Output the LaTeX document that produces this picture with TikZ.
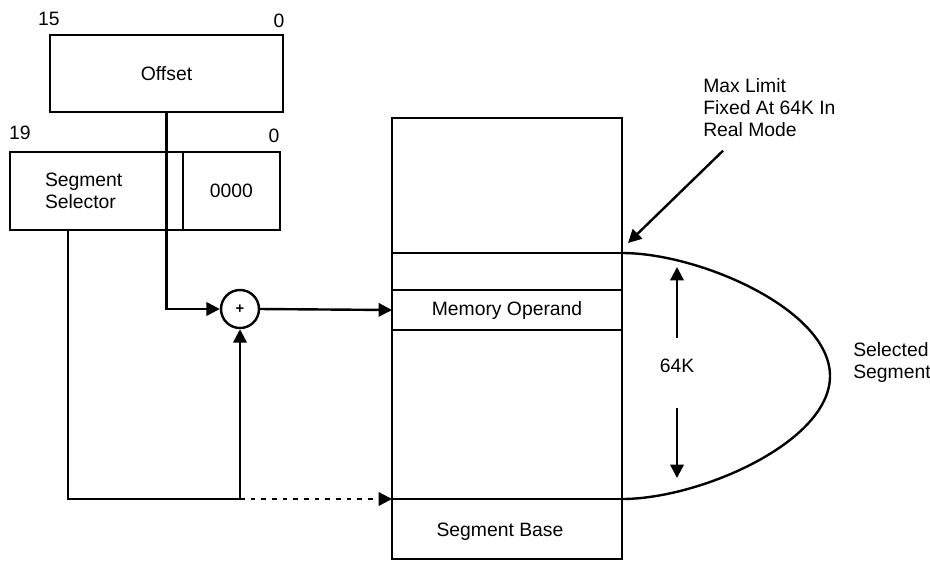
\documentclass[tikz,border=0pt]{standalone}
\usepackage{fontspec}
\setmainfont{Liberation Sans}
\usetikzlibrary{arrows.meta,positioning}
\tikzset{
	regbox/.style={rectangle, draw, line width=1.8pt, outer sep=0pt, inner sep=0pt,
		align=center, font=\fontsize{14.5}{16.5}\selectfont},
	plain/.style={inner sep=0pt, align=left, font=\fontsize{14.5}{16.5}\selectfont},
	flowarr/.style={-{Triangle[length=10pt,width=10pt]}, line width=1.8pt},
	dotarr/.style={flowarr, dash pattern=on 3.5pt off 4.5pt}
}
\begin{document}
\begin{tikzpicture}[x=0.75pt,y=-0.75pt]
	\useasboundingbox (0,0) rectangle (930,562);
	% registers
	\node[regbox, minimum width=174.75pt, minimum height=57.75pt] (offset) at (166.5,73.5) {Offset};
	\node[regbox, text width=77.25pt, inner xsep=26.25pt, align=left, minimum height=58.5pt] (sel) at (96.5,191) {Segment\\Selector};
	\node[regbox, minimum width=72.75pt, minimum height=58.5pt, right=0pt of sel] (zeros) {0000};
	\node[plain] (offhi) at (49,19) {15};
	\node[plain] (offlo) at (279,21) {0};
	\node[plain] (selhi) at (20,133) {19};
	\node[plain] (sello) at (274,136) {0};
	% adder
	\node[circle, draw, line width=1.8pt, minimum size=28.5pt, inner sep=0pt, font=\fontsize{11}{12}\selectfont\bfseries] (sum) at (240,309) {+};
	% memory
	\node[regbox, minimum width=172.5pt, minimum height=330.75pt] (mem) at (507,338.5) {};
	\node[regbox, minimum width=172.5pt, minimum height=30pt] (operand) at (507,310) {Memory Operand};
	\node[plain] (base) at (500,532) {Segment Base};
	\coordinate (segtop) at (622,253);
	\coordinate (segbot) at (622,499);
	\coordinate (bulge) at (830,376);
	\draw[line width=1.8pt] (mem.west |- segtop) -- (segtop);
	\draw[line width=1.8pt] (mem.west |- segbot) -- (segbot);
	\draw[line width=1.8pt] (segtop) .. controls (700,253) and (830,310) .. (bulge)
		.. controls (830,442) and (700,499) .. (segbot);
	\node[plain] (size) at (677,366) {64K};
	\draw[flowarr] ([yshift=16pt]size.north) -- ([yshift=-10.5pt]size |- segtop);
	\draw[flowarr] ([yshift=-26pt]size.south) -- ([yshift=15.75pt]size |- segbot);
	\node[plain, anchor=west] (selseg) at (853,362) {Selected\\Segment};
	\node[plain, anchor=north west] (maxlim) at (703,78) {Max Limit\\Fixed At 64K In\\Real Mode};
	\draw[flowarr] ([xshift=15pt,yshift=-10.5pt]maxlim.south west) -- ([xshift=4.5pt,yshift=7.5pt]segtop);
	% address paths
	\coordinate (join) at (240,499);
	\draw[flowarr] (offset.south) |- (sum.west);
	\draw[flowarr] ([xshift=-21.4pt]sel.south) |- (join) -- (sum.south);
	\draw[dotarr] (join) -- (mem.west |- segbot);
	\draw[flowarr] (sum.east) -- (operand.west);
\end{tikzpicture}
\end{document}
